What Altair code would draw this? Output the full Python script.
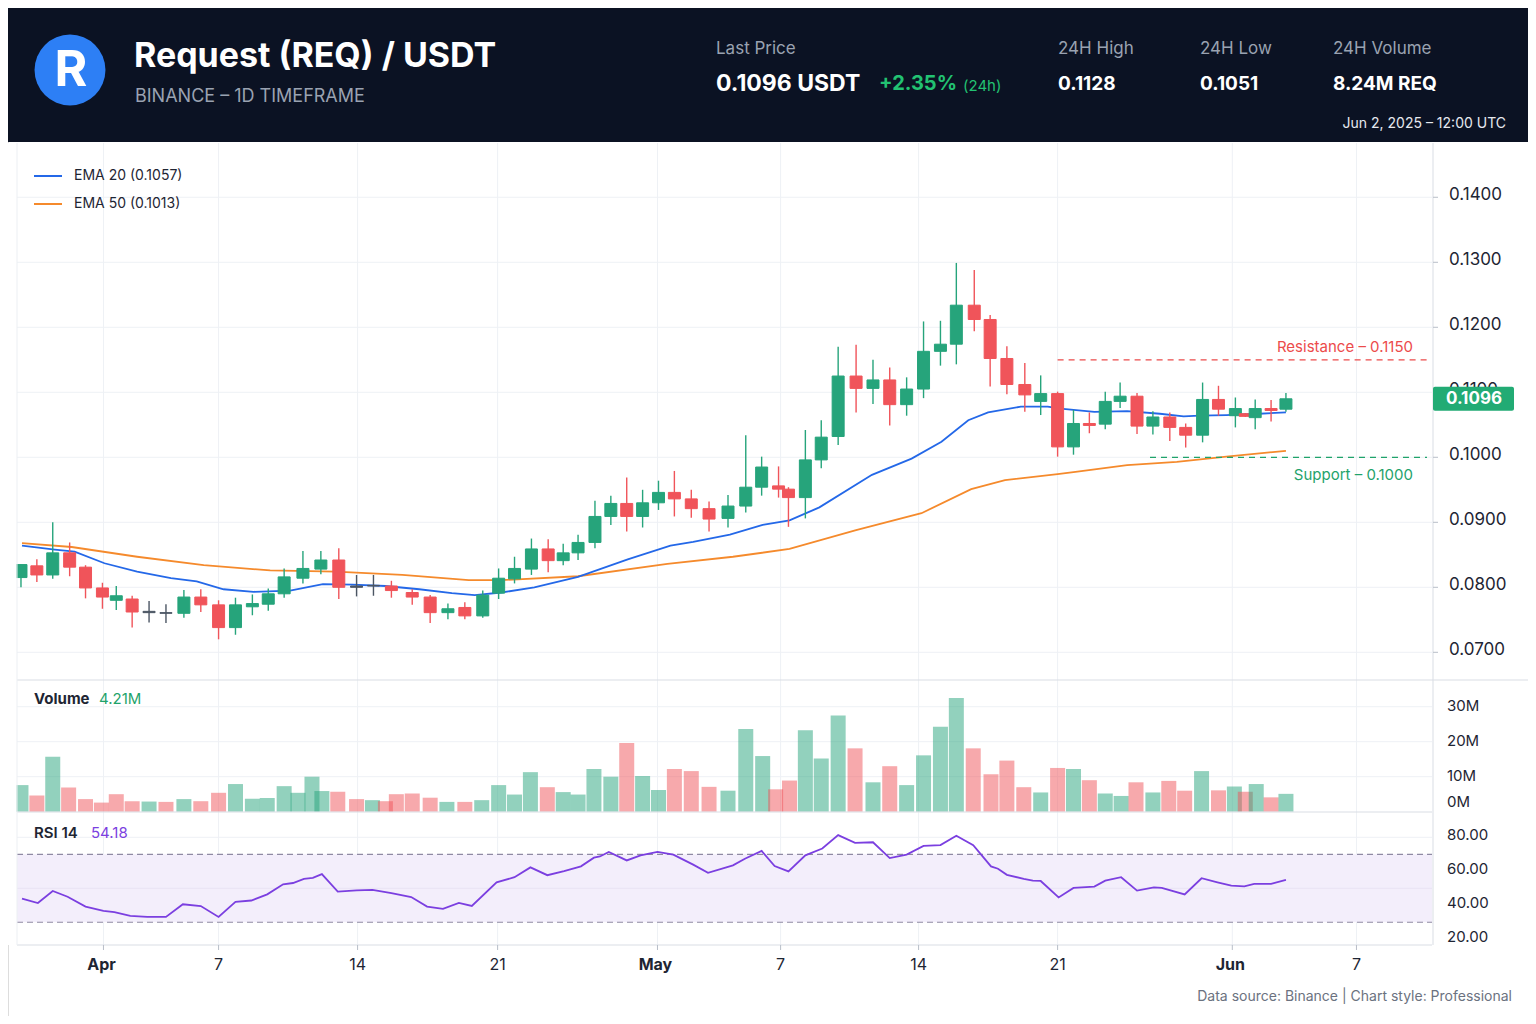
import altair as alt
import pandas as pd

FONT = "Inter"
GREEN = "#26a47b"
RED = "#f0545a"
FLAT = "#4b5563"
BLUE = "#2468e8"
ORANGE = "#f58a2c"
PURPLE = "#7b3fe0"
GRID = "#eef1f5"
BORDER = "#d9dde4"
DARK = "#1e2533"
HEADER_BG = "#0b1223"

# ---------------- data (x in candle-slot units of the time axis) ----------------
cx = [-0.06, 0.87, 1.80, 2.79, 3.72, 4.71, 5.52, 6.45, 7.44, 8.43,
      9.48, 10.47, 11.51, 12.50, 13.49, 14.42, 15.35, 16.45, 17.50, 18.55,
      19.59, 20.58, 21.63, 22.85, 23.90, 24.94, 25.93, 26.98, 27.91, 28.84,
      29.83, 30.81, 31.69, 32.56, 33.55, 34.48, 35.41, 36.34, 37.27, 38.20,
      39.19, 40.23, 41.34, 42.38, 43.31, 44.30, 44.88, 45.87, 46.80, 47.79,
      48.84, 49.83, 50.81, 51.80, 52.79, 53.78, 54.71, 55.76, 56.69, 57.67,
      58.72, 59.65, 60.64, 61.57, 62.50, 63.43, 64.30, 65.29, 66.22, 67.21,
      68.14, 69.13, 70.06, 71.05, 71.63, 72.21, 73.14, 74.01]
opens = [0.0815, 0.0833, 0.0819, 0.0853, 0.0831, 0.0799, 0.0780, 0.0782, 0.0761, 0.0760,
         0.0760, 0.0785, 0.0773, 0.0738, 0.0770, 0.0774, 0.0790, 0.0814, 0.0828, 0.0842,
         0.0802, 0.0802, 0.0802, 0.0792, 0.0785, 0.0761, 0.0769, 0.0756, 0.0791, 0.0813,
         0.0828, 0.0859, 0.0841, 0.0853, 0.0869, 0.0909, 0.0929, 0.0909, 0.0930, 0.0946,
         0.0936, 0.0921, 0.0906, 0.0925, 0.0954, 0.0956, 0.0951, 0.0938, 0.0996, 0.1032,
         0.1125, 0.1106, 0.1119, 0.1081, 0.1105, 0.1163, 0.1174, 0.1234, 0.1212, 0.1152,
         0.1112, 0.1086, 0.1098, 0.1016, 0.1052, 0.1051, 0.1086, 0.1094, 0.1048, 0.1062,
         0.1046, 0.1034, 0.1089, 0.1064, 0.1067, 0.1061, 0.1075, 0.1074]
highs = [0.0835, 0.0843, 0.0900, 0.0869, 0.0834, 0.0807, 0.0802, 0.0787, 0.0779, 0.0774,
         0.0796, 0.0797, 0.0780, 0.0784, 0.0789, 0.0798, 0.0829, 0.0856, 0.0856, 0.0860,
         0.0819, 0.0819, 0.0810, 0.0797, 0.0788, 0.0775, 0.0777, 0.0795, 0.0829, 0.0847,
         0.0875, 0.0874, 0.0867, 0.0881, 0.0933, 0.0941, 0.0969, 0.0950, 0.0964, 0.0979,
         0.0950, 0.0932, 0.0942, 0.1034, 0.1001, 0.0986, 0.0954, 0.1042, 0.1057, 0.1170,
         0.1173, 0.1150, 0.1138, 0.1123, 0.1209, 0.1210, 0.1299, 0.1288, 0.1219, 0.1171,
         0.1145, 0.1126, 0.1101, 0.1073, 0.1069, 0.1101, 0.1115, 0.1099, 0.1071, 0.1069,
         0.1052, 0.1115, 0.1110, 0.1092, 0.1068, 0.1089, 0.1088, 0.1099]
lows = [0.0800, 0.0808, 0.0813, 0.0817, 0.0783, 0.0767, 0.0765, 0.0738, 0.0746, 0.0745,
        0.0753, 0.0762, 0.0720, 0.0727, 0.0757, 0.0764, 0.0784, 0.0806, 0.0820, 0.0782,
        0.0786, 0.0787, 0.0784, 0.0773, 0.0745, 0.0751, 0.0751, 0.0753, 0.0782, 0.0806,
        0.0819, 0.0823, 0.0834, 0.0842, 0.0860, 0.0896, 0.0886, 0.0892, 0.0919, 0.0909,
        0.0907, 0.0886, 0.0892, 0.0915, 0.0941, 0.0938, 0.0893, 0.0906, 0.0983, 0.1019,
        0.1069, 0.1082, 0.1049, 0.1064, 0.1091, 0.1141, 0.1143, 0.1194, 0.1109, 0.1097,
        0.1070, 0.1065, 0.1001, 0.1004, 0.1037, 0.1043, 0.1076, 0.1036, 0.1035, 0.1025,
        0.1015, 0.1023, 0.1064, 0.1046, 0.1062, 0.1043, 0.1055, 0.1070]
closes = [0.0835, 0.0819, 0.0853, 0.0831, 0.0799, 0.0785, 0.0787, 0.0762, 0.0763, 0.0761,
          0.0785, 0.0773, 0.0738, 0.0773, 0.0775, 0.0790, 0.0816, 0.0829, 0.0842, 0.0800,
          0.0800, 0.0803, 0.0795, 0.0785, 0.0761, 0.0767, 0.0756, 0.0788, 0.0814, 0.0829,
          0.0859, 0.0841, 0.0853, 0.0869, 0.0909, 0.0929, 0.0909, 0.0930, 0.0946, 0.0936,
          0.0921, 0.0905, 0.0925, 0.0954, 0.0985, 0.0951, 0.0938, 0.0996, 0.1031, 0.1125,
          0.1106, 0.1119, 0.1081, 0.1105, 0.1163, 0.1174, 0.1234, 0.1212, 0.1152, 0.1112,
          0.1096, 0.1098, 0.1016, 0.1052, 0.1049, 0.1086, 0.1094, 0.1048, 0.1062, 0.1046,
          0.1034, 0.1089, 0.1074, 0.1075, 0.1063, 0.1075, 0.1072, 0.1090]

ema20_x = [0, 1.92, 3.08, 4.83, 6.74, 8.72, 10.23, 11.80, 13.55, 15.70,
           17.62, 19.36, 21.28, 23.26, 25.17, 26.51, 28.08, 30.00, 32.56, 35.47,
           37.97, 39.30, 41.45, 43.37, 44.94, 46.69, 49.77, 52.09, 53.84, 55.41,
           56.57, 58.49, 60.06, 60.81, 62.79, 64.71, 66.63, 68.02, 68.95, 70.52,
           72.44, 74.01]
ema20 = [0.0864, 0.0858, 0.0855, 0.0837, 0.0824, 0.0814, 0.0809, 0.0797, 0.0793, 0.0795,
         0.0805, 0.0804, 0.0802, 0.0797, 0.0791, 0.0788, 0.0792, 0.0800, 0.0816, 0.0843,
         0.0864, 0.0870, 0.0881, 0.0896, 0.0903, 0.0923, 0.0973, 0.0998, 0.1024, 0.1057,
         0.1069, 0.1078, 0.1078, 0.1075, 0.1070, 0.1071, 0.1067, 0.1063, 0.1064, 0.1065,
         0.1067, 0.1069]
ema50_x = [0, 2.91, 6.74, 10.64, 14.53, 18.37, 22.27, 26.16, 28.08, 32.56, 37.79, 41.63,
           44.94, 48.84, 52.67, 55.58, 57.56, 60.64, 61.80, 64.71, 67.62, 70.52, 74.01]
ema50 = [0.0868, 0.0862, 0.0847, 0.0834, 0.0826, 0.0824, 0.0819, 0.0811, 0.0811, 0.0817, 0.0836, 0.0847,
         0.0859, 0.0888, 0.0914, 0.0951, 0.0965, 0.0974, 0.0978, 0.0988, 0.0993, 0.1001, 0.1010]

vol_x = [-0.06, 0.87, 1.80, 2.73, 3.72, 4.65, 5.52, 6.45, 7.44, 8.43,
         9.48, 10.47, 11.51, 12.50, 13.49, 14.36, 15.35, 16.16, 16.98, 17.56,
         18.49, 19.59, 20.52, 21.28, 21.92, 22.85, 23.90, 24.88, 25.93, 26.92,
         27.91, 28.84, 29.77, 30.76, 31.69, 32.56, 33.49, 34.48, 35.41, 36.34,
         37.27, 38.20, 39.19, 40.23, 41.34, 42.38, 43.37, 44.13, 44.94, 45.87,
         46.80, 47.79, 48.78, 49.83, 50.81, 51.80, 52.79, 53.78, 54.71, 55.70,
         56.74, 57.67, 58.66, 59.65, 60.64, 61.57, 62.50, 63.43, 64.36, 65.23,
         66.22, 67.15, 68.08, 69.07, 70.06, 70.99, 71.63, 72.27, 73.14, 74.01]
vol_m = [7.6, 4.6, 15.7, 6.9, 3.6, 2.6, 5.0, 3.0, 2.9, 2.8,
         3.6, 3.0, 5.4, 7.9, 3.7, 3.9, 7.3, 5.4, 10.0, 5.9,
         5.7, 3.6, 3.3, 3.0, 5.0, 5.2, 4.0, 2.8, 2.8, 3.3,
         7.6, 4.9, 11.3, 7.0, 5.6, 4.9, 12.2, 10.0, 19.6, 10.2,
         6.2, 12.2, 11.6, 7.1, 6.0, 23.6, 15.9, 6.4, 8.9, 23.3,
         15.2, 27.5, 18.1, 8.4, 13.0, 7.6, 16.1, 24.3, 32.5, 18.1,
         10.7, 14.6, 7.0, 5.5, 12.5, 12.2, 9.0, 5.2, 4.5, 8.4,
         5.5, 8.8, 6.0, 11.6, 6.1, 7.2, 5.7, 7.9, 4.1, 5.1]
vol_dir = ["g", "r", "g", "r", "r", "r", "r", "r", "g", "r",
           "g", "r", "r", "g", "g", "g", "g", "g", "g", "g",
           "r", "r", "g", "r", "r", "r", "r", "g", "r", "g",
           "g", "g", "g", "r", "g", "g", "g", "g", "r", "g",
           "g", "r", "r", "r", "g", "g", "g", "r", "r", "g",
           "g", "g", "r", "g", "r", "g", "g", "g", "g", "r",
           "r", "r", "r", "g", "r", "g", "r", "g", "g", "r",
           "g", "r", "r", "g", "r", "g", "r", "g", "r", "g"]

rsi_x = [0.0, 0.93, 1.80, 2.67, 3.72, 4.77, 5.41, 6.34, 7.33, 8.43,
         9.42, 10.47, 11.51, 12.50, 13.43, 14.36, 15.29, 15.87, 16.51, 17.03,
         17.56, 18.49, 19.59, 20.52, 21.63, 22.79, 23.72, 24.65, 25.58, 26.34,
         27.79, 28.84, 29.77, 30.76, 31.74, 32.73, 33.49, 33.84, 34.36, 35.41,
         36.22, 37.21, 38.14, 39.30, 40.17, 41.63, 42.33, 43.31, 44.07, 44.88,
         45.87, 46.86, 47.79, 48.78, 49.83, 50.81, 51.80, 52.79, 53.78, 54.71,
         55.70, 56.74, 57.15, 57.67, 58.66, 59.19, 59.65, 60.70, 61.57, 62.79,
         63.43, 64.36, 65.29, 66.28, 66.74, 68.08, 69.07, 70.00, 70.81, 71.57,
         72.15, 73.14, 74.01]
rsi = [43.9, 41.3, 48.4, 45.0, 39.2, 36.7, 35.9, 33.7, 33.1, 33.1,
       40.6, 39.5, 33.1, 42.0, 42.8, 46.4, 52.3, 53.1, 55.5, 56.1,
       58.3, 48.0, 48.8, 49.0, 47.2, 44.8, 39.2, 37.9, 41.4, 39.6,
       53.5, 56.5, 62.3, 57.7, 60.1, 62.9, 68.0, 68.7, 71.4, 66.4,
       69.4, 71.4, 69.8, 63.9, 59.1, 63.5, 67.4, 72.0, 63.1, 59.9,
       69.4, 73.4, 81.3, 76.7, 77.1, 67.8, 69.8, 74.9, 75.4, 80.9,
       75.4, 62.9, 61.5, 57.9, 55.5, 54.5, 54.3, 44.6, 50.2, 51.0,
       54.5, 56.5, 48.6, 50.5, 50.2, 46.4, 55.9, 53.5, 51.5, 51.1,
       52.6, 52.6, 54.9]

x_tick_pos = [4.77, 11.51, 19.65, 27.85, 37.21, 44.42, 52.50, 60.64, 70.87, 78.14]
x_tick_lab = ["Apr", "7", "14", "21", "May", "7", "14", "21", "Jun", "7"]
x_tick_month = [True, False, False, False, True, False, False, False, True, False]
price_ticks = [0.07, 0.08, 0.09, 0.10, 0.11, 0.12, 0.13, 0.14]
vol_ticks = [10, 20, 30]
vol_tick_lab = ["10M", "20M", "30M"]
rsi_ticks = [80, 60, 40, 20]
resistance = 0.1150
support = 0.1000
resistance_from = 60.64
support_from = 66.05
x_end = 82.27
last_close = 0.1090

# ---------------- scales ----------------
xs = alt.Scale(domain=[0, x_end], range=[9, 1424], nice=False, zero=False)
ps = alt.Scale(domain=[0.06574, 0.14835], range=[672, 135], nice=False, zero=False)
vs = alt.Scale(domain=[0, 37.63], range=[803.7, 672], nice=False, zero=False)
rs = alt.Scale(domain=[16.6, 94.9], range=[937, 804], nice=False, zero=False)
kscale = alt.Scale(domain=["up", "down", "flat"], range=[GREEN, RED, FLAT])
vscale = alt.Scale(domain=["g", "r"], range=[GREEN, RED])


def X(f):
    return alt.X(f, type="quantitative", scale=xs, axis=None)


def Y(f, s):
    return alt.Y(f, type="quantitative", scale=s, axis=None)


def txt(s, x, y, size, color, weight="normal", align="left"):
    return alt.Chart(pd.DataFrame({"t": [s]})).mark_text(
        align=align, baseline="middle", fontSize=size, fontWeight=weight,
        color=color, font=FONT
    ).encode(text="t:N", x=alt.value(x), y=alt.value(y))


def hline(y, x1, x2, color=BORDER, width=1):
    return alt.Chart(pd.DataFrame({"a": [0]})).mark_rule(color=color, strokeWidth=width).encode(
        x=alt.value(x1), x2=alt.value(x2), y=alt.value(y))


kind = []
for o, c in zip(opens, closes):
    if abs(c - o) < 0.00025:
        kind.append("flat")
    elif c > o:
        kind.append("up")
    else:
        kind.append("down")

candles = pd.DataFrame({"u": cx, "open": opens, "high": highs, "low": lows,
                        "close": closes, "kind": kind})
vol_df = pd.DataFrame({"u": vol_x, "vol": vol_m, "d": vol_dir})
rsi_df = pd.DataFrame({"u": rsi_x, "rsi": rsi})
e20_df = pd.DataFrame({"u": ema20_x, "p": ema20})
e50_df = pd.DataFrame({"u": ema50_x, "p": ema50})
xt_df = pd.DataFrame({"u": x_tick_pos, "lab": x_tick_lab, "m": x_tick_month})
pt_df = pd.DataFrame({"p": price_ticks})

layers = []

# ---------------- header ----------------
layers.append(alt.Chart(pd.DataFrame({"a": [0]})).mark_rect(color=HEADER_BG).encode(
    x=alt.value(-8), x2=alt.value(1528), y=alt.value(-8), y2=alt.value(134)))
layers.append(alt.Chart(pd.DataFrame({"a": [0]})).mark_circle(size=5030, color="#2d7ff5", opacity=1).encode(
    x=alt.value(62), y=alt.value(62)))
layers.append(txt("R", 63, 63, 50, "white", "bold", "center"))
layers.append(txt("Request (REQ) / USDT", 126, 49, 34, "white", "bold"))
layers.append(txt("BINANCE – 1D TIMEFRAME", 127, 89, 18, "#9aa2b1"))
layers.append(txt("Last Price", 708, 41, 17, "#9aa2b1"))
layers.append(txt("0.1096 USDT", 708, 76, 23, "white", "bold"))
layers.append(txt("+2.35%", 871, 76, 20, "#22c272", "bold"))
layers.append(txt("(24h)", 955, 78, 15, "#22c272"))
layers.append(txt("24H High", 1050, 41, 17, "#9aa2b1"))
layers.append(txt("0.1128", 1050, 76, 19, "white", "bold"))
layers.append(txt("24H Low", 1192, 41, 17, "#9aa2b1"))
layers.append(txt("0.1051", 1192, 76, 19, "white", "bold"))
layers.append(txt("24H Volume", 1325, 41, 17, "#9aa2b1"))
layers.append(txt("8.24M REQ", 1325, 76, 19, "white", "bold"))
layers.append(txt("Jun 2, 2025 – 12:00 UTC", 1498, 116, 14, "#e6e9ef", "normal", "right"))

# ---------------- grids / panels ----------------
layers.append(alt.Chart(xt_df).mark_rule(color=GRID, strokeWidth=1).encode(
    x=X("u"), y=alt.value(135), y2=alt.value(937)))
layers.append(alt.Chart(pt_df).mark_rule(color=GRID, strokeWidth=1).encode(
    y=Y("p", ps), x=alt.value(9), x2=alt.value(1424)))
layers.append(alt.Chart(pd.DataFrame({"v": vol_ticks})).mark_rule(color=GRID, strokeWidth=1).encode(
    y=Y("v", vs), x=alt.value(9), x2=alt.value(1424)))
layers.append(alt.Chart(pd.DataFrame({"r": [80]})).mark_rule(color=GRID, strokeWidth=1).encode(
    y=Y("r", rs), x=alt.value(9), x2=alt.value(1424)))
layers.append(alt.Chart(pd.DataFrame({"hi": [70], "lo": [30]})).mark_rect(color="#f3eefb").encode(
    y=Y("hi", rs), y2="lo:Q", x=alt.value(9), x2=alt.value(1424)))
layers.append(alt.Chart(pd.DataFrame({"r": [50]})).mark_rule(color="#e9e3f4", strokeWidth=1).encode(
    y=Y("r", rs), x=alt.value(9), x2=alt.value(1424)))
layers.append(alt.Chart(pd.DataFrame({"r": [30, 70]})).mark_rule(
    color="#8f8aa3", strokeWidth=1.2, strokeDash=[6, 4]).encode(
    y=Y("r", rs), x=alt.value(9), x2=alt.value(1424)))

# ---------------- price panel ----------------
layers.append(alt.Chart(e50_df).mark_line(color=ORANGE, strokeWidth=1.8).encode(x=X("u"), y=Y("p", ps)))
layers.append(alt.Chart(e20_df).mark_line(color=BLUE, strokeWidth=1.8).encode(x=X("u"), y=Y("p", ps)))
layers.append(alt.Chart(candles).mark_rule(strokeWidth=1.4).encode(
    x=X("u"), y=Y("low", ps), y2="high:Q",
    color=alt.Color("kind:N", scale=kscale, legend=None)))
layers.append(alt.Chart(candles).mark_bar(size=12, strokeWidth=1).encode(
    x=X("u"), y=Y("open", ps), y2="close:Q",
    color=alt.Color("kind:N", scale=kscale, legend=None),
    stroke=alt.Stroke("kind:N", scale=kscale, legend=None)))

lv = pd.DataFrame({"u1": [resistance_from], "u2": [x_end], "p": [resistance]})
sv = pd.DataFrame({"u1": [support_from], "u2": [x_end], "p": [support]})
layers.append(alt.Chart(lv).mark_rule(color="#ec4b4b", strokeWidth=1.3, strokeDash=[6, 5]).encode(
    x=X("u1"), x2="u2:Q", y=Y("p", ps)))
layers.append(alt.Chart(sv).mark_rule(color="#1fa36b", strokeWidth=1.3, strokeDash=[6, 5]).encode(
    x=X("u1"), x2="u2:Q", y=Y("p", ps)))
layers.append(alt.Chart(lv).mark_text(align="right", baseline="middle", fontSize=15, color="#ec4b4b",
                                      font=FONT, dy=-13).encode(
    y=Y("p", ps), x=alt.value(1405), text=alt.value("Resistance – 0.1150")))
layers.append(alt.Chart(sv).mark_text(align="right", baseline="middle", fontSize=15, color="#1fa36b",
                                      font=FONT, dy=18).encode(
    y=Y("p", ps), x=alt.value(1405), text=alt.value("Support – 0.1000")))

# ---------------- volume panel ----------------
layers.append(alt.Chart(vol_df).mark_bar(size=15, opacity=0.5).encode(
    x=X("u"), y=Y("vol", vs), color=alt.Color("d:N", scale=vscale, legend=None)))

# ---------------- RSI panel ----------------
layers.append(alt.Chart(rsi_df).mark_line(color=PURPLE, strokeWidth=1.8).encode(
    x=X("u"), y=Y("rsi", rs)))

# left clip cover and borders
layers.append(alt.Chart(pd.DataFrame({"a": [0]})).mark_rect(color="white").encode(
    x=alt.value(-8), x2=alt.value(8.5), y=alt.value(135), y2=alt.value(937)))
layers.append(hline(672, 9, 1528))
layers.append(hline(804, 9, 1424))
layers.append(hline(937, 9, 1424))
layers.append(alt.Chart(pd.DataFrame({"a": [0]})).mark_rule(color=BORDER, strokeWidth=1).encode(
    x=alt.value(1425), y=alt.value(135), y2=alt.value(937)))
layers.append(alt.Chart(pd.DataFrame({"a": [0]})).mark_rule(color="#eceff3", strokeWidth=1).encode(
    x=alt.value(9), y=alt.value(135), y2=alt.value(937)))

# ---------------- axis labels ----------------
layers.append(alt.Chart(pt_df).mark_rule(color="#b8bec8").encode(
    y=Y("p", ps), x=alt.value(1425), x2=alt.value(1430)))
layers.append(alt.Chart(pt_df).mark_text(align="left", baseline="middle", fontSize=17,
                                         color=DARK, font=FONT, dy=-2).encode(
    y=Y("p", ps), x=alt.value(1441), text=alt.Text("p:Q", format=".4f")))
layers.append(alt.Chart(pd.DataFrame({"v": vol_ticks, "lab": vol_tick_lab})).mark_text(
    align="left", baseline="middle", fontSize=15, color=DARK, font=FONT, dy=-1).encode(
    y=Y("v", vs), x=alt.value(1439), text="lab:N"))
layers.append(alt.Chart(pd.DataFrame({"v": [0], "lab": ["0M"]})).mark_text(
    align="left", baseline="middle", fontSize=15, color=DARK, font=FONT, dy=-10).encode(
    y=Y("v", vs), x=alt.value(1439), text="lab:N"))
layers.append(alt.Chart(pd.DataFrame({"r": rsi_ticks})).mark_text(
    align="left", baseline="middle", fontSize=15, color=DARK, font=FONT, dy=-2).encode(
    y=Y("r", rs), x=alt.value(1439), text=alt.Text("r:Q", format=".2f")))
layers.append(alt.Chart(xt_df).mark_rule(color="#b8bec8").encode(
    x=X("u"), y=alt.value(937), y2=alt.value(942)))
layers.append(alt.Chart(xt_df).transform_filter("datum.m").mark_text(
    align="center", baseline="middle", fontSize=16, fontWeight="bold", color=DARK, font=FONT, dx=-2).encode(
    x=X("u"), y=alt.value(957), text="lab:N"))
layers.append(alt.Chart(xt_df).transform_filter("!datum.m").mark_text(
    align="center", baseline="middle", fontSize=16, color=DARK, font=FONT).encode(
    x=X("u"), y=alt.value(957), text="lab:N"))

# price tag
tag = pd.DataFrame({"hi": [last_close + 0.00185], "lo": [last_close - 0.00185], "p": [last_close]})
layers.append(alt.Chart(tag).mark_rect(color="#22ab74", cornerRadius=2).encode(
    y=Y("hi", ps), y2="lo:Q", x=alt.value(1425), x2=alt.value(1506)))
layers.append(alt.Chart(tag).mark_text(align="center", baseline="middle", fontSize=17,
                                       fontWeight="bold", color="white", font=FONT).encode(
    y=Y("p", ps), x=alt.value(1466), text=alt.value("0.1096")))

# ---------------- legend / panel titles / footer ----------------
layers.append(hline(168, 26, 54, BLUE, 2))
layers.append(hline(196, 26, 54, ORANGE, 2))
layers.append(txt("EMA 20 (0.1057)", 66, 168, 14, DARK))
layers.append(txt("EMA 50 (0.1013)", 66, 196, 14, DARK))
layers.append(txt("Volume", 26, 691, 15, DARK, "bold"))
layers.append(txt("4.21M", 91, 691, 15, "#1fa36b"))
layers.append(txt("RSI 14", 26, 825, 15, DARK, 600))
layers.append(txt("54.18", 83, 825, 15, PURPLE))
layers.append(txt("Data source: Binance  |  Chart style: Professional", 1504, 989, 14, "#6b7280", "normal", "right"))

chart = alt.layer(*layers).resolve_scale(
    y="independent", color="independent", stroke="independent"
).properties(
    width=1520, height=1008, autosize=alt.AutoSizeParams(type="none"), padding=0
).configure_view(stroke=None).configure(font=FONT)

chart.save("out.html", embed_options={"renderer": "svg", "actions": False})
